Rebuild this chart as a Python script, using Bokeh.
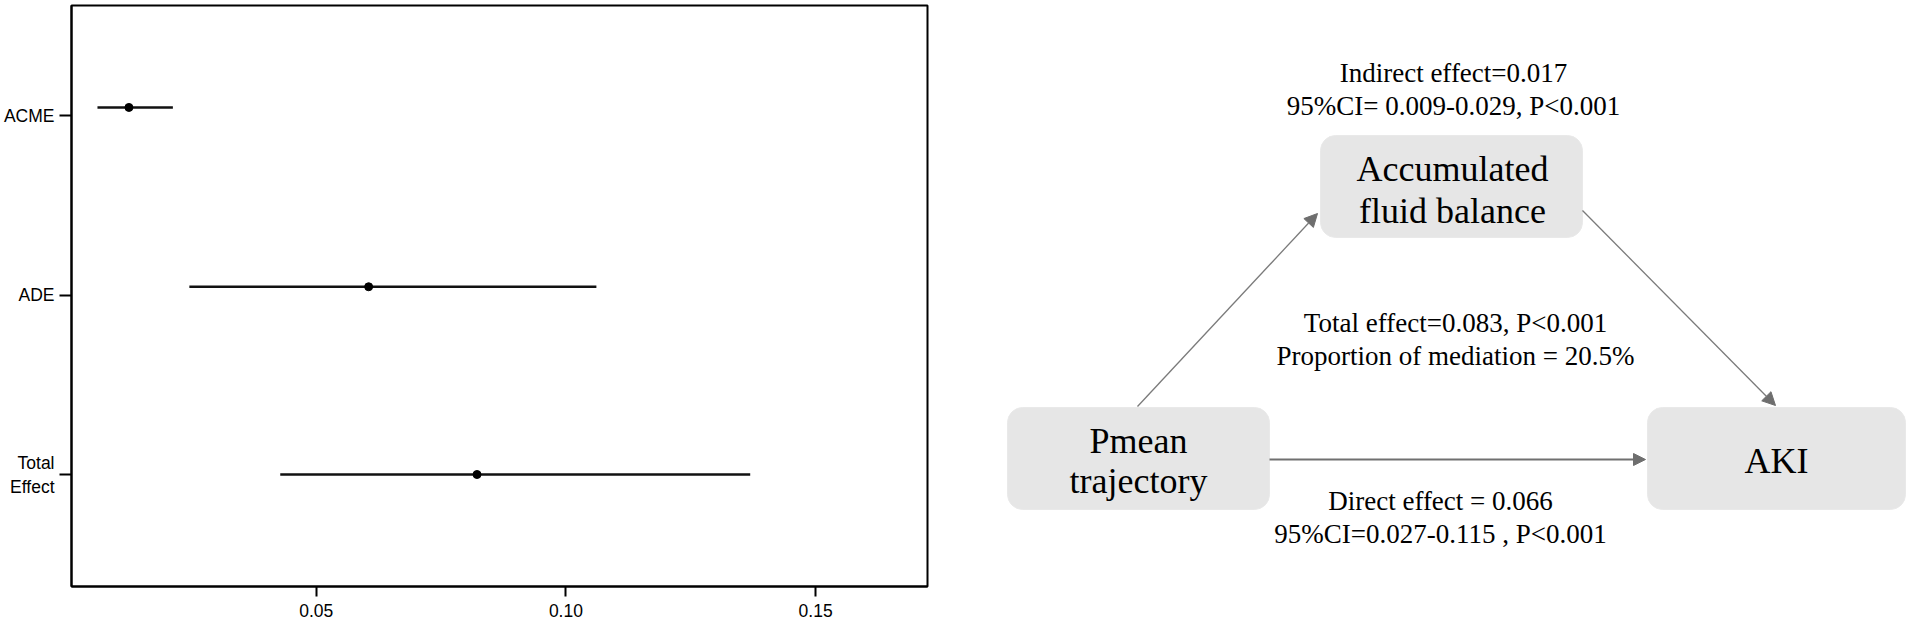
from bokeh.plotting import figure
from bokeh.layouts import row
from bokeh.models import (Range1d, FixedTicker, PrintfTickFormatter, ColumnDataSource,
                          Arrow, NormalHead)
from bokeh.core.properties import value
from bokeh.embed import file_html
from bokeh.resources import INLINE

# ---------------- data: mediation forest plot ----------------
effects = ["ACME", "ADE", "Total\nEffect"]
tick_pos = [3, 2, 1]
row_pos = [3.045, 2.046, 1.0]
estimate = [0.0125, 0.0605, 0.0822]
ci_lower = [0.0062, 0.0246, 0.0428]
ci_upper = [0.0213, 0.1061, 0.1369]
x_ticks = [0.05, 0.10, 0.15]

# ---------------- data: mediation diagram ----------------
node_labels = [["Accumulated", "fluid balance"], ["Pmean", "trajectory"], ["AKI"]]
annot_indirect = ["Indirect effect=0.017", "95%CI= 0.009-0.029, P<0.001"]
annot_total = ["Total effect=0.083, P<0.001", "Proportion of mediation = 20.5%"]
annot_direct = ["Direct effect = 0.066", "95%CI=0.027-0.115 , P<0.001"]

H = 626
W1 = 940
W2 = 968
TOP, BOTTOM = 5, 40
AX_FONT = "Liberation Sans"

# ---------------- left: forest plot ----------------
p1 = figure(width=W1, height=H, output_backend="svg", toolbar_location=None,
            x_range=Range1d(0.0010, 0.1724), y_range=Range1d(0.376, 3.613),
            min_border_left=69, min_border_right=W1 - 927, min_border_top=TOP,
            min_border_bottom=BOTTOM)
p1.xgrid.visible = False
p1.ygrid.visible = False
p1.background_fill_color = "white"
p1.border_fill_color = "white"
p1.outline_line_color = "black"
p1.outline_line_width = 2
p1.outline_line_alpha = 1

src = ColumnDataSource(dict(y=row_pos, est=estimate, lo=ci_lower, hi=ci_upper))
p1.segment(x0="lo", x1="hi", y0="y", y1="y", source=src, line_color="#111111",
           line_width=2.4)
p1.scatter(x="est", y="y", source=src, size=8, marker="circle",
           fill_color="black", line_color="black")

xa = p1.xaxis[0]
xa.ticker = FixedTicker(ticks=x_ticks)
xa.formatter = PrintfTickFormatter(format="%.2f")
xa.minor_tick_line_color = None
xa.major_tick_in = 0
xa.major_tick_out = 10
xa.major_tick_line_width = 2
xa.axis_line_width = 2
xa.major_label_standoff = 7
xa.major_label_text_font = AX_FONT
xa.major_label_text_font_size = "17.5px"
xa.major_label_text_color = "black"

ya = p1.yaxis[0]
ya.ticker = FixedTicker(ticks=tick_pos)
ya.major_label_overrides = {t: lab for t, lab in zip(tick_pos, effects)}
ya.minor_tick_line_color = None
ya.major_tick_in = 0
ya.major_tick_out = 12
ya.major_tick_line_width = 2
ya.axis_line_width = 2
ya.major_label_standoff = 5
ya.major_label_text_font = AX_FONT
ya.major_label_text_font_size = "17.5px"
ya.major_label_text_color = "black"
ya.major_label_text_align = "right"

# ---------------- right: diagram (frame aligned with the left plot) ----------------
p2 = figure(width=W2, height=H, output_backend="svg", toolbar_location=None,
            x_range=Range1d(W1, W1 + W2), y_range=Range1d(H - BOTTOM, TOP),
            x_axis_type=None, y_axis_type=None, min_border_left=0, min_border_right=0,
            min_border_top=TOP, min_border_bottom=BOTTOM)
p2.grid.visible = False
p2.outline_line_color = None
p2.background_fill_color = "white"
p2.border_fill_color = "white"

# node boxes (layout in diagram coordinates)
box_left = [1320, 1007, 1647]
box_right = [1582, 1269, 1905]
box_top = [135, 407, 407]
box_bottom = [237, 509, 509]
p2.quad(left=box_left, right=box_right, top=box_top, bottom=box_bottom,
        fill_color="#e6e6e6", line_color="#e9e9e9", border_radius=15)

# arrows
arr = ColumnDataSource(dict(xs=[1137, 1582], ys=[406, 210], xe=[1317, 1775], ye=[213, 405]))
p2.add_layout(Arrow(source=arr, x_start="xs", y_start="ys", x_end="xe", y_end="ye",
                    line_color="#7a7a7a", line_width=1.3,
                    end=NormalHead(size=13, fill_color="#6e6e6e", line_color="#6e6e6e",
                                   line_width=1)))
p2.add_layout(Arrow(x_start=1269, y_start=459, x_end=1645, y_end=459,
                    line_color="#707070", line_width=2.2,
                    end=NormalHead(size=12, fill_color="#6e6e6e", line_color="#6e6e6e",
                                   line_width=1)))

serif = value("Liberation Serif")
# node texts
node_x = [1452, 1452, 1138, 1138, 1776]
node_y = [168, 210, 440, 480, 460]
node_txt = node_labels[0] + node_labels[1] + node_labels[2]
p2.text(x=node_x, y=node_y, text=node_txt, text_font=serif, text_font_size="36px",
        text_align="center", text_baseline="middle", text_color="black")

# annotation texts
ann_x = [1453, 1453, 1455, 1455, 1440, 1440]
ann_y = [72, 105, 322, 355, 500, 533]
ann_txt = annot_indirect + annot_total + annot_direct
p2.text(x=ann_x, y=ann_y, text=ann_txt, text_font=serif, text_font_size="27px",
        text_align="center", text_baseline="middle", text_color="black")

layout = row(p1, p2, spacing=0)
open("out.html", "w").write(file_html(layout, INLINE))
